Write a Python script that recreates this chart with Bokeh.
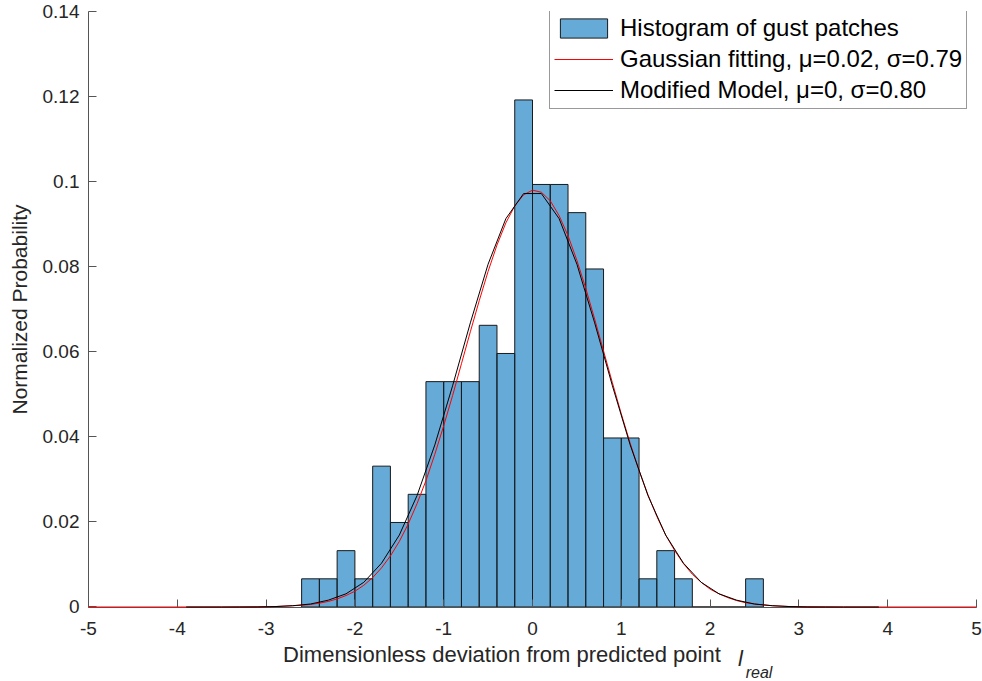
from bokeh.plotting import figure
from bokeh.models import Legend, LegendItem, LinearAxis, FixedTicker
from bokeh.embed import file_html
from bokeh.resources import INLINE

# Histogram: bin left edges (width 0.2) and counts of gust patches
bin_left = [-2.6, -2.4, -2.2, -2.0, -1.8, -1.6, -1.4, -1.2, -1.0, -0.8, -0.6, -0.4, -0.2,
            0.0, 0.2, 0.4, 0.6, 0.8, 1.0, 1.2, 1.4, 1.6, 1.8, 2.0, 2.2, 2.4]
bin_width = 0.2
counts = [1, 1, 2, 1, 5, 3, 4, 8, 8, 8, 10, 9, 18,
          15, 15, 14, 12, 6, 6, 1, 2, 1, 0, 0, 0, 1]

# Gaussian fitting curve
gauss_x = [-5.0, -4.0, -3.5, -3.0, -2.9, -2.8, -2.7, -2.6, -2.5, -2.4, -2.3, -2.2, -2.1,
           -2.0, -1.9, -1.8, -1.7, -1.6, -1.5, -1.4, -1.3, -1.2, -1.1, -1.0, -0.9, -0.8,
           -0.7, -0.6, -0.5, -0.4, -0.3, -0.2, -0.1, 0.0, 0.1, 0.2, 0.3, 0.4, 0.5, 0.6,
           0.7, 0.8, 0.9, 1.0, 1.1, 1.2, 1.3, 1.4, 1.5, 1.6, 1.7, 1.8, 1.9, 2.0, 2.1,
           2.2, 2.3, 2.4, 2.5, 2.6, 2.7, 2.8, 2.9, 3.0, 3.5, 4.0, 5.0]
gauss_y = [0.0, 0.0, 0.0, 0.0001, 0.0001, 0.0002, 0.0003, 0.0004, 0.0006, 0.0009, 0.0013, 0.0019, 0.0027,
           0.0037, 0.0051, 0.0069, 0.0092, 0.0120, 0.0154, 0.0195, 0.0243, 0.0297, 0.0359, 0.0426, 0.0497, 0.0572,
           0.0647, 0.0720, 0.0789, 0.0851, 0.0903, 0.0943, 0.0969, 0.0980, 0.0975, 0.0955, 0.0920, 0.0873, 0.0815, 0.0749,
           0.0677, 0.0602, 0.0527, 0.0454, 0.0385, 0.0321, 0.0264, 0.0213, 0.0169, 0.0133, 0.0102, 0.0077, 0.0058, 0.0042, 0.0031,
           0.0022, 0.0015, 0.0010, 0.0007, 0.0005, 0.0003, 0.0002, 0.0001, 0.0001, 0.0, 0.0, 0.0]

# Modified model curve
model_x = [-3.9, -3.7, -3.5, -3.3, -3.1, -2.9, -2.7, -2.5, -2.3, -2.1, -1.9, -1.7, -1.5, -1.3,
           -1.1, -0.9, -0.7, -0.5, -0.3, -0.1, 0.1, 0.3, 0.5, 0.7, 0.9, 1.1, 1.3, 1.5,
           1.7, 1.9, 2.1, 2.3, 2.5, 2.7, 2.9, 3.1, 3.3, 3.5, 3.7, 3.9]
model_y = [0.0, 0.0, 0.0, 0.0, 0.0, 0.0001, 0.0003, 0.0007, 0.0016, 0.0031, 0.0058, 0.0103, 0.0169, 0.0262,
           0.0381, 0.0520, 0.0668, 0.0806, 0.0913, 0.0972, 0.0972, 0.0913, 0.0806, 0.0668, 0.0520, 0.0381, 0.0262, 0.0169,
           0.0103, 0.0058, 0.0031, 0.0016, 0.0007, 0.0003, 0.0001, 0.0, 0.0, 0.0, 0.0, 0.0]

x_ticks = [-5, -4, -3, -2, -1, 0, 1, 2, 3, 4, 5]
x_tick_labels = ["-5", "-4", "-3", "-2", "-1", "0", "1", "2", "3", "4", "5"]
y_ticks = [0, 0.02, 0.04, 0.06, 0.08, 0.1, 0.12, 0.14]
y_tick_labels = ["0", "0.02", "0.04", "0.06", "0.08", "0.1", "0.12", "0.14"]

total = sum(counts)
prob = [c / total for c in counts]
bin_right = [b + bin_width for b in bin_left]

FONT = "Liberation Sans"
AX = "#262626"

p = figure(frame_width=888, frame_height=596, x_range=(-5, 5), y_range=(-0.00012, 0.14),
           output_backend="svg", toolbar_location=None,
           min_border_left=88, min_border_right=6, min_border_top=11, min_border_bottom=70)
p.outline_line_color = None
p.xgrid.visible = False
p.ygrid.visible = False
p.background_fill_color = "white"

hist = p.quad(left=bin_left, right=bin_right, bottom=0, top=prob,
              fill_color="#0072BD", fill_alpha=0.6, line_color="#1a1a1a", line_width=1)
red = p.line(gauss_x, gauss_y, line_color="#ff0000", line_width=1, level="overlay")
blk = p.line(model_x, model_y, line_color="#000000", line_width=1, level="overlay")

for ax in (p.xaxis[0], p.yaxis[0]):
    ax.axis_line_color = "#555555"
    ax.major_tick_line_color = "#555555"
    ax.major_tick_in = 8
    ax.major_tick_out = 0
    ax.minor_tick_line_color = None
    ax.major_label_text_font = FONT
    ax.major_label_text_font_size = "19px"
    ax.major_label_text_color = AX

p.xaxis.ticker = FixedTicker(ticks=x_ticks)
p.xaxis.major_label_overrides = {t: l for t, l in zip(x_ticks, x_tick_labels)}
p.xaxis.major_label_standoff = 14
p.yaxis.ticker = FixedTicker(ticks=y_ticks)
p.yaxis.major_label_overrides = {t: l for t, l in zip(y_ticks, y_tick_labels)}
p.yaxis.major_label_standoff = 9

p.yaxis.axis_label = "Normalized Probability"
p.yaxis.axis_label_text_font = FONT
p.yaxis.axis_label_text_font_size = "21px"
p.yaxis.axis_label_text_font_style = "normal"
p.yaxis.axis_label_text_color = AX
p.yaxis.axis_label_standoff = 9

p.xaxis.axis_label = "Dimensionless deviation from predicted point" + "\u00a0" * 10
p.xaxis.axis_label_text_font = FONT
p.xaxis.axis_label_text_font_size = "22px"
p.xaxis.axis_label_text_font_style = "normal"
p.xaxis.axis_label_text_color = AX
p.xaxis.axis_label_standoff = 4

# italic symbol "l" with subscript "real" of the x-axis label, placed as extra label-only axes
sym_x = 2.342
sub_x = 2.551
sym_axis = LinearAxis(ticker=FixedTicker(ticks=[sym_x]), major_label_overrides={sym_x: "l"},
                      axis_line_color=None, major_tick_line_color=None, minor_tick_line_color=None,
                      major_label_standoff=-30, major_label_text_font=FONT,
                      major_label_text_font_size="22px", major_label_text_font_style="italic",
                      major_label_text_color=AX)
sub_axis = LinearAxis(ticker=FixedTicker(ticks=[sub_x]), major_label_overrides={sub_x: "real"},
                      axis_line_color=None, major_tick_line_color=None, minor_tick_line_color=None,
                      major_label_standoff=-16, major_label_text_font=FONT,
                      major_label_text_font_size="16px", major_label_text_font_style="italic",
                      major_label_text_color=AX)
p.add_layout(sym_axis, "below")
p.add_layout(sub_axis, "below")

legend = Legend(items=[
    LegendItem(label="Histogram of gust patches", renderers=[hist]),
    LegendItem(label="Gaussian fitting, μ=0.02, σ=0.79", renderers=[red]),
    LegendItem(label="Modified Model, μ=0, σ=0.80", renderers=[blk]),
], location=(461, 498))
legend.label_text_font = FONT
legend.label_text_font_size = "24px"
legend.label_text_color = "#000000"
legend.glyph_width = 59
legend.glyph_height = 24
legend.label_height = 24
legend.label_standoff = 7
legend.spacing = 3
legend.padding = 4
legend.margin = 0
legend.border_line_color = "#333333"
legend.border_line_width = 1
legend.background_fill_color = "white"
legend.background_fill_alpha = 1.0
p.add_layout(legend, "center")

open("out.html", "w").write(file_html(p, INLINE))
